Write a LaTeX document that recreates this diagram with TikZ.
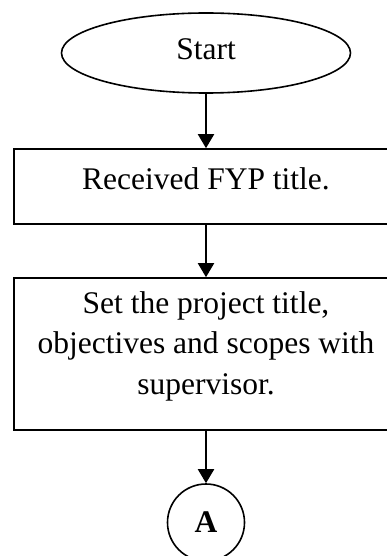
\documentclass[tikz,border=0pt]{standalone}
\usepackage{fontspec}
\setmainfont{Liberation Serif}
\usetikzlibrary{arrows.meta,shapes.geometric}
\begin{document}
\begin{tikzpicture}[x=1pt,y=1pt,
  every node/.style={font=\fontsize{31.5}{40.5}\selectfont, inner sep=0pt, line width=1.6pt},
  term/.style={draw, ellipse, minimum width=289pt, minimum height=80pt, text height=21.5pt, text depth=8.5pt},
  procbox/.style={draw, rectangle, minimum width=384pt, align=center},
  conn/.style={draw, circle, minimum size=77pt, font=\fontsize{31.5}{40.5}\selectfont\bfseries},
  flow/.style={line width=2pt, -{Triangle[width=16pt,length=14pt]}}]
\useasboundingbox (0,0) rectangle (387,-556);
\node[term] (start) at (206,-53) {Start};
\node[procbox, minimum height=75pt, text height=21.5pt, text depth=15.5pt] (b1) at (206,-186.5) {Received FYP title.};
\node[procbox, minimum height=152pt, text height=102.5pt, text depth=22.5pt] (b2) at (206,-354) {Set the project title,\\objectives and scopes with\\supervisor.};
\node[conn] (A) at (206,-522.5) {A};
\draw[flow] (start) -- (b1);
\draw[flow] (b1) -- (b2);
\draw[flow] (b2) -- (A);
\end{tikzpicture}
\end{document}
